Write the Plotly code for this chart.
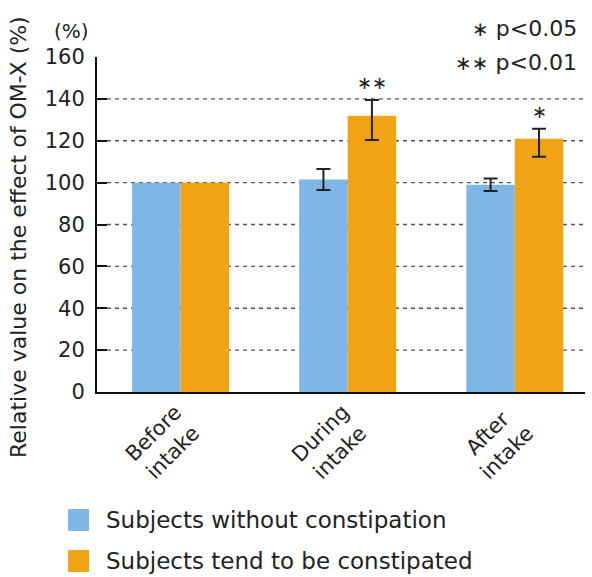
import plotly.graph_objects as go

categories = ["Before<br>intake", "During<br>intake", "After<br>intake"]
series_names = ["Subjects without constipation", "Subjects tend to be constipated"]
without_vals = [100, 101.5, 99]
without_err_plus = [None, 5, 3]
without_err_minus = [None, 5, 3]
tend_vals = [100, 132, 121]
tend_err_plus = [None, 7.5, 4.7]
tend_err_minus = [None, 11.7, 8.7]
significance = ["", "∗∗", "∗"]
y_ticks = [0, 20, 40, 60, 80, 100, 120, 140, 160]
grid_vals = [20, 40, 60, 80, 100, 120, 140]
sig_marks = ["∗", "∗∗"]
sig_texts = ["p<0.05", "p<0.01"]

BLUE = "#7EB6E6"
ORANGE = "#F2A314"
FONT = "DejaVu Sans"
TXT = "#222222"

W, H = 592, 577
L, R, T, B = 97, 7, 57, 185
PW = W - L - R
PH = H - T - B


def px(x):
    return (x - L) / PW


def py(y):
    return (H - B - y) / PH


xs = list(range(len(categories)))

fig = go.Figure()
series = [
    (series_names[0], without_vals, without_err_plus, without_err_minus, BLUE, "a"),
    (series_names[1], tend_vals, tend_err_plus, tend_err_minus, ORANGE, "b"),
]
for name, vals, ep, em, col, grp in series:
    plain = [i for i in xs if ep[i] is None]
    witherr = [i for i in xs if ep[i] is not None]
    fig.add_trace(go.Bar(
        x=plain, y=[vals[i] for i in plain], name=name, marker_color=col,
        marker_line_width=0, offsetgroup=grp,
    ))
    fig.add_trace(go.Bar(
        x=witherr, y=[vals[i] for i in witherr], name=name, marker_color=col,
        marker_line_width=0, offsetgroup=grp,
        error_y=dict(type="data", symmetric=False, array=[ep[i] for i in witherr],
                     arrayminus=[em[i] for i in witherr], color="#222222",
                     thickness=2, width=7),
    ))

shapes = []
for g in grid_vals:
    shapes.append(dict(type="line", xref="paper", yref="y", x0=px(107), x1=1.0,
                       y0=g, y1=g, line=dict(color="#555555", width=1.3, dash="4px,4px"),
                       layer="below"))

annotations = []
# x category labels (rotated)
for i, c in enumerate(categories):
    annotations.append(dict(x=i, y=py(443), xref="x", yref="paper", text=c,
                            textangle=-45, showarrow=False, xanchor="center",
                            yanchor="middle", xshift=-17,
                            font=dict(family=FONT, size=21, color=TXT)))
# significance marks
for i, s in enumerate(significance):
    if s:
        annotations.append(dict(x=i + 0.145, y=tend_vals[i] + tend_err_plus[i], xref="x", yref="y",
                                text=s, showarrow=False, yanchor="bottom", yshift=5,
                                font=dict(family=FONT, size=18, color=TXT)))
# significance legend
for k, yc in enumerate([28, 62]):
    annotations.append(dict(x=px(579), y=py(yc), xref="paper", yref="paper",
                            text="<span style='font-size:20px'>" + sig_marks[k] + "</span> " + sig_texts[k],
                            showarrow=False, xanchor="right", yanchor="middle",
                            font=dict(family=FONT, size=22, color=TXT)))
# unit label
annotations.append(dict(x=px(71), y=py(31), xref="paper", yref="paper", text="(%)",
                        showarrow=False, xanchor="center", yanchor="middle",
                        font=dict(family=FONT, size=20, color=TXT)))
# y title
annotations.append(dict(x=px(18), y=py(237), xref="paper", yref="paper",
                        text="Relative value on the effect of OM-X (%)", textangle=-90,
                        showarrow=False, xanchor="center", yanchor="middle",
                        font=dict(family=FONT, size=22, color=TXT)))
# legend
legend_rows = [(BLUE, series_names[0], 520), (ORANGE, series_names[1], 561)]
for col, name, yc in legend_rows:
    shapes.append(dict(type="rect", xref="paper", yref="paper", x0=px(68), x1=px(89),
                       y0=py(yc - 11), y1=py(yc + 11), fillcolor=col, line_width=0))
    annotations.append(dict(x=px(104), y=py(yc), xref="paper", yref="paper", text=name,
                            showarrow=False, xanchor="left", yanchor="middle",
                            font=dict(family=FONT, size=23, color=TXT)))

fig.update_layout(
    width=W, height=H,
    margin=dict(l=L, r=R, t=T, b=B, pad=0),
    paper_bgcolor="white", plot_bgcolor="white",
    barmode="group", bargap=0.42, bargroupgap=0,
    showlegend=False,
    shapes=shapes, annotations=annotations,
    font=dict(family=FONT, color=TXT),
)
fig.update_xaxes(range=[-0.5, 2.42], tickvals=xs, showticklabels=False, ticks="",
                 showline=True, linecolor="#111111", linewidth=2, showgrid=False,
                 zeroline=False)
fig.update_yaxes(range=[0, 160], tickvals=y_ticks, ticks="inside", ticklen=10,
                 tickwidth=1.5, tickcolor="#111111", showline=True, linecolor="#111111",
                 linewidth=2, showgrid=False, zeroline=False, ticklabelstandoff=6,
                 tickfont=dict(family=FONT, size=21, color=TXT))

fig.write_html("out.html", config={"displayModeBar": False},
               post_script="document.body.style.margin='0';document.body.style.padding='0';")
